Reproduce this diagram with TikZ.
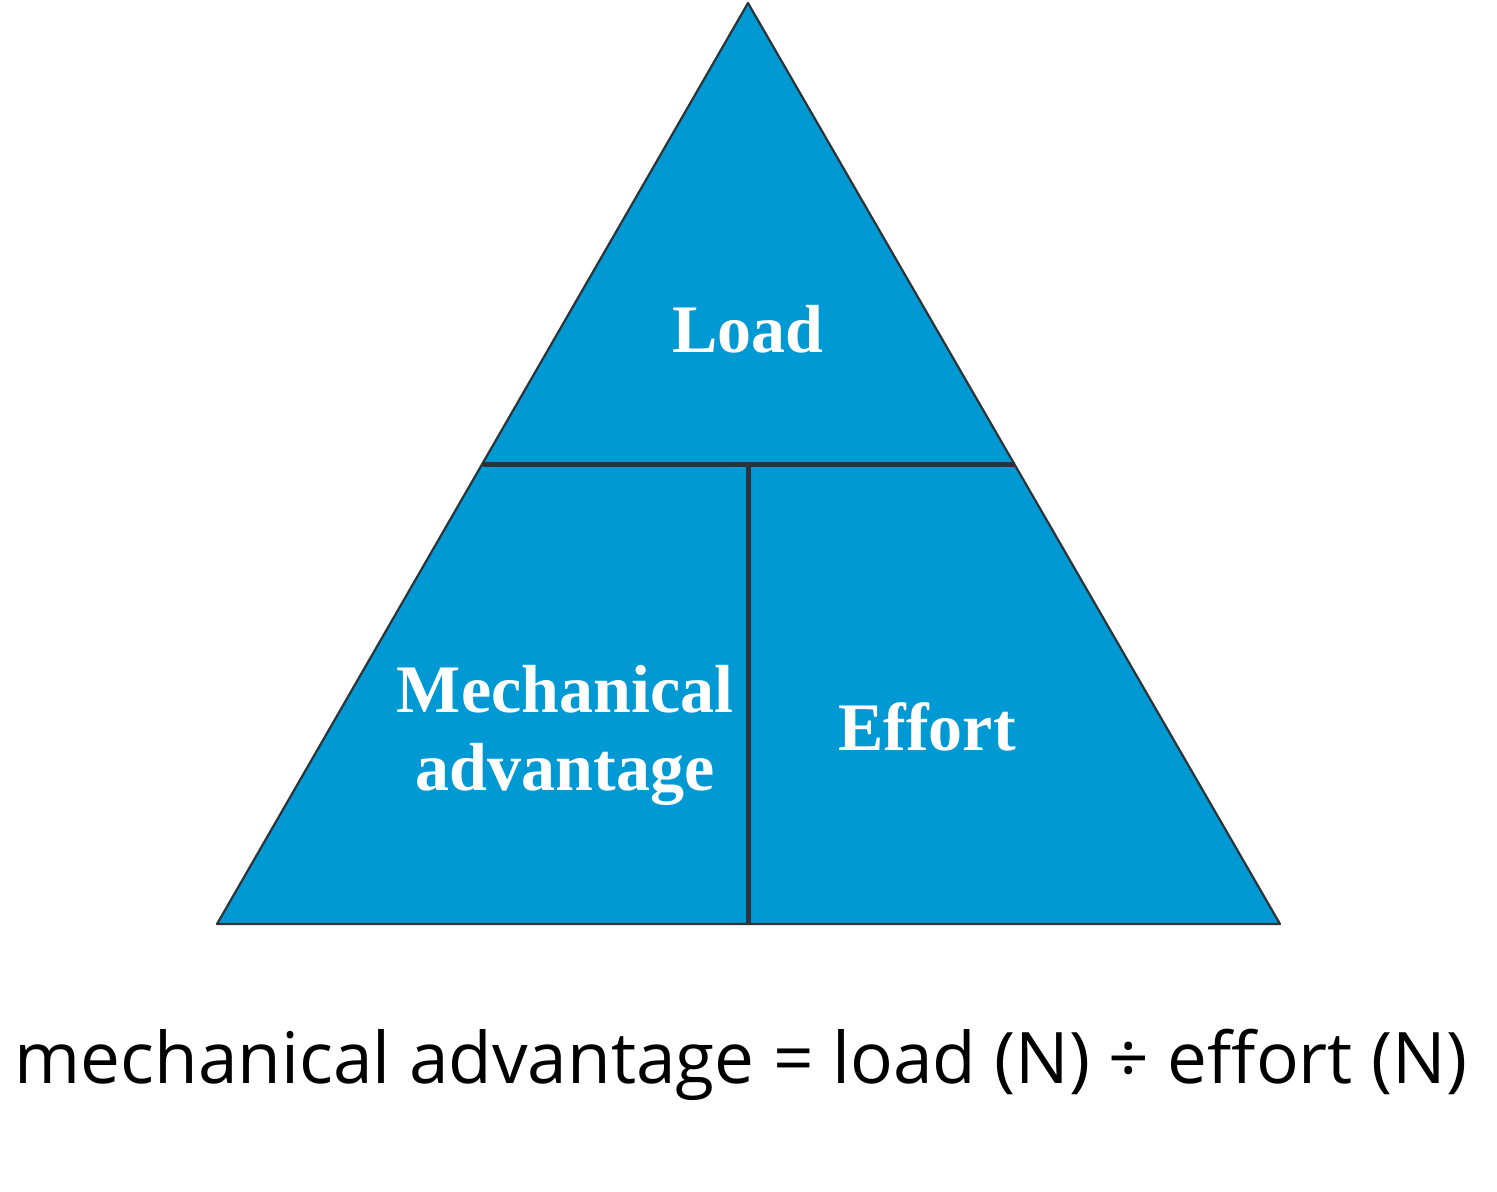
\documentclass[tikz,border=0pt]{standalone}
\usepackage{fontspec}
\setmainfont{Liberation Serif}
\newfontfamily\eqfont{Open Sans}
\definecolor{tri}{RGB}{0,153,211}
\definecolor{edge}{RGB}{43,52,56}
\begin{document}
\begin{tikzpicture}[x=0.5pt,y=-0.5pt,
  lbl/.style={text=white,font=\fontsize{34}{39}\selectfont\bfseries,align=center,inner sep=0},
  divider/.style={draw=edge,line width=2.5pt}]
\useasboundingbox (0,0) rectangle (1497,1191);
\coordinate (apex) at (748,3);
\coordinate (bl) at (217,924);
\coordinate (br) at (1280,924);
\fill[tri] (apex) -- (bl) -- (br) -- cycle;
\draw[divider] (483,464) coordinate (hl) -- (1015,464) coordinate (hr);
\draw[divider] (748,464) coordinate (vt) -- (748,924) coordinate (vb);
\draw[draw=edge,line width=1.1pt,line join=round] (apex) -- (bl) -- (br) -- cycle;
\node[lbl,anchor=base] (load) at (748,352) {Load};
\node[lbl,anchor=base] (ma) at (565,712) {Mechanical};
\node[lbl,anchor=base] (ma2) at (565,790) {advantage};
\node[lbl,anchor=base] (effort) at (927,750) {Effort};
\node[inner sep=0,anchor=base] (eq) at (741,1083) {\resizebox{726pt}{!}{\eqfont mechanical advantage = load (N) ÷ effort (N)}};
\end{tikzpicture}
\end{document}
